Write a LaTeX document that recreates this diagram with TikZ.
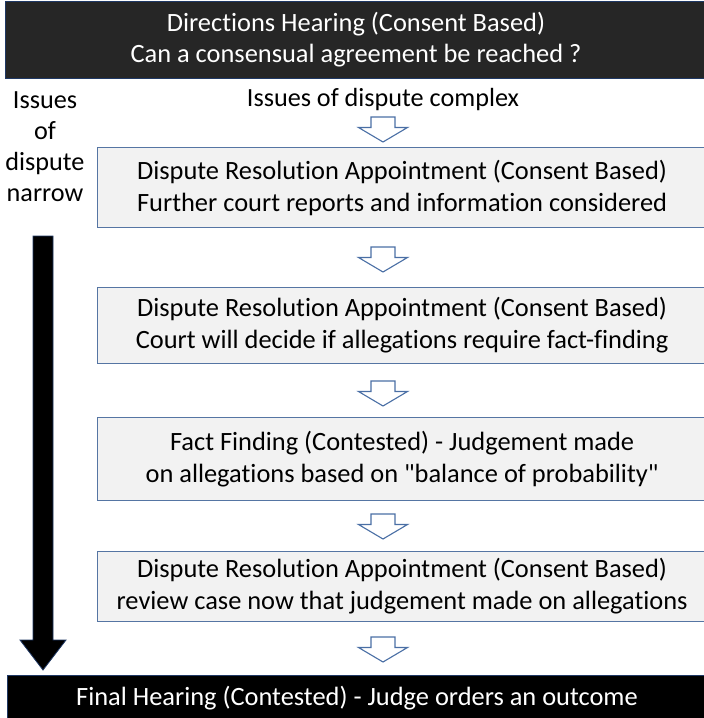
\documentclass[tikz,border=0pt]{standalone}
\usepackage{fontspec}
\setmainfont{Carlito}[Ligatures=NoCommon]
\newcommand\straightquote{\XeTeXglyph\XeTeXcharglyph34\relax}
\definecolor{boxborder}{HTML}{5575A3}
\definecolor{boxfill}{HTML}{F2F2F2}
\definecolor{topfill}{HTML}{262626}
\definecolor{arrowborder}{HTML}{4A6FA5}
\definecolor{blackedge}{HTML}{1F3864}
\tikzset{
  stagebox/.style={draw=boxborder, line width=1.2pt, fill=boxfill, align=center,
    font=\fontsize{26.4}{32}\selectfont, inner sep=0pt, minimum width=609pt, anchor=north west},
  darkbox/.style={draw=blackedge, line width=1pt, align=center, text=white,
    font=\fontsize{26.4}{31}\selectfont, inner sep=0pt, anchor=north west},
  plaintext/.style={align=center, font=\fontsize{26.2}{31}\selectfont, inner sep=0pt},
  hollowarrow/.pic={
    \draw[draw=arrowborder, line width=1.1pt, fill=white, line join=miter]
      (-12,0) -- (12,0) -- (12,10.5) -- (24.5,10.5) -- (0,25) -- (-24.5,10.5) -- (-12,10.5) -- cycle;
  }
}
\begin{document}
\begin{tikzpicture}[x=1pt,y=-1pt]
\useasboundingbox (0,0) rectangle (704,718);
% top box
\node[darkbox, fill=topfill, minimum width=701pt, minimum height=77pt] (top) at (5,1)
  {Directions Hearing (Consent Based)\\Can a consensual agreement be reached ?};
% side label
\node[plaintext] (side) at (45,147) {Issues\\of\\dispute\\narrow};
% complex label
\node[plaintext] (complex) at (383,100) {Issues of dispute complex};
% stage boxes
\node[stagebox, minimum height=80pt] (b1) at (97,147)
  {Dispute Resolution Appointment (Consent Based)\\Further court reports and information considered};
\node[stagebox, minimum height=76pt] (b2) at (97,287)
  {Dispute Resolution Appointment (Consent Based)\\Court will decide if allegations require fact-finding};
\node[stagebox, minimum height=83pt] (b3) at (97,417)
  {Fact Finding (Contested) - Judgement made\\on allegations based on \straightquote balance of probability\straightquote};
\node[stagebox, minimum height=70pt] (b4) at (97,551)
  {Dispute Resolution Appointment (Consent Based)\\review case now that judgement made on allegations};
% bottom box
\node[darkbox, fill=black, minimum width=699pt, minimum height=46pt] (bottom) at (7,675)
  {Final Hearing (Contested) - Judge orders an outcome};
% hollow arrows
\pic at (383,117) {hollowarrow};
\pic at (383,247) {hollowarrow};
\pic at (383,381) {hollowarrow};
\pic at (383,514) {hollowarrow};
\pic at (383,637) {hollowarrow};
% black arrow
\draw[fill=black, draw=blackedge, line width=0.8pt, line join=miter]
  (33,236) -- (53,236) -- (53,640) -- (66,640) -- (43,670) -- (20,640) -- (33,640) -- cycle;
\end{tikzpicture}
\end{document}
